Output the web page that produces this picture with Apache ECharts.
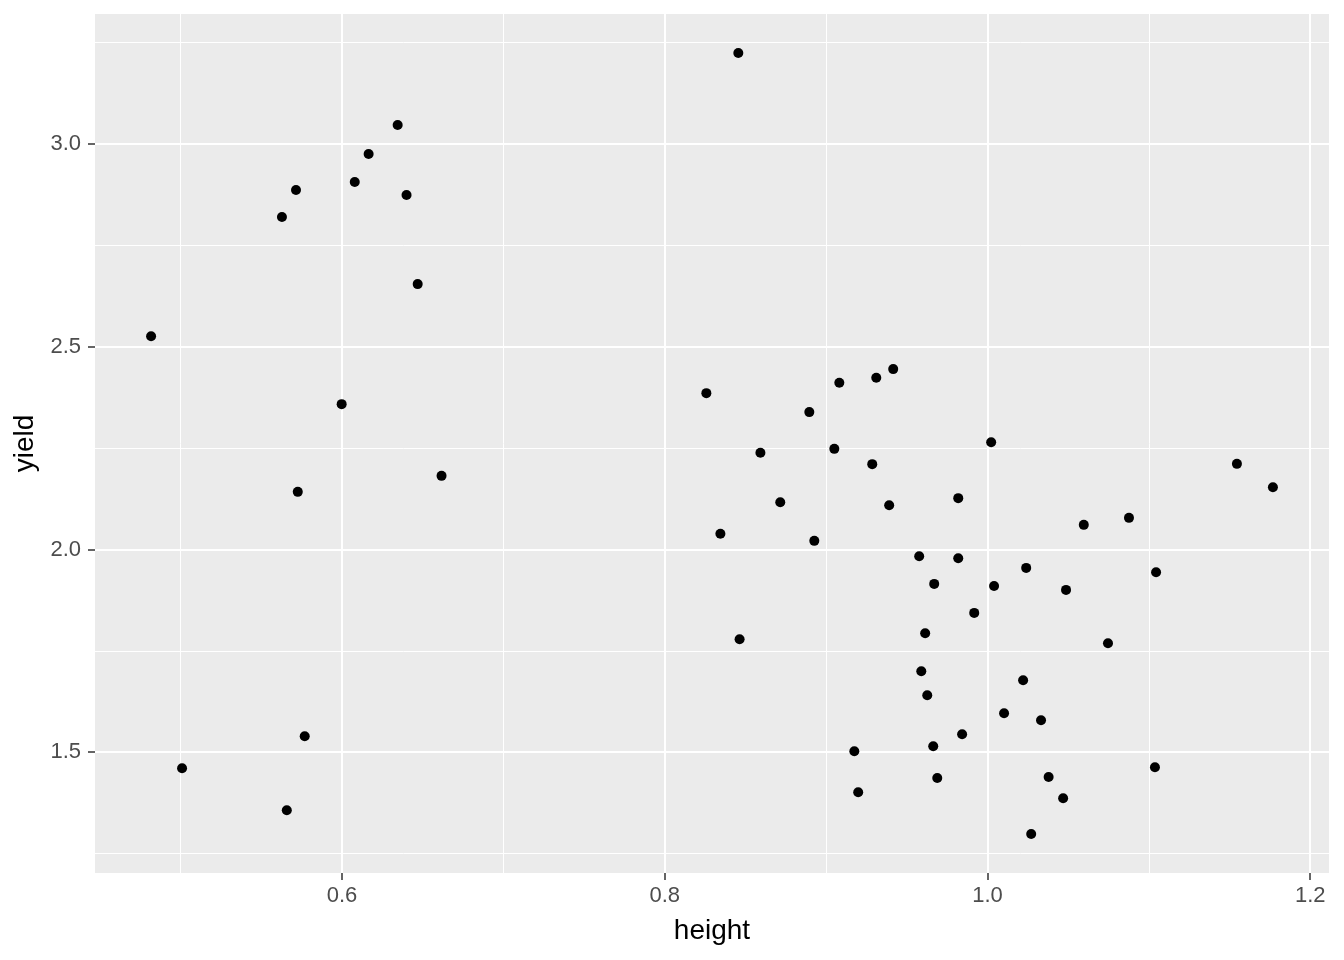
<!DOCTYPE html>
<html>
<head>
<meta charset="utf-8">
<script src="https://cdn.jsdelivr.net/npm/echarts@6/dist/echarts.min.js"></script>
<style>
html,body{margin:0;padding:0;background:#fff;}
#chart{width:1344px;height:960px;}
</style>
</head>
<body>
<div id="chart"></div>
<script>
const heights = [0.4817, 0.5009, 0.5628, 0.5715, 0.6079, 0.6165, 0.6345, 0.6400, 0.6469, 0.5998, 0.5726, 0.6617, 0.5769, 0.5658, 0.8456,
  0.8258, 0.9082, 0.9311, 0.9416, 0.8896, 1.0023, 0.8593, 0.9051, 0.9286, 0.8716, 0.9391, 0.9819, 1.0597, 0.8345, 0.8927, 0.9577, 0.9819, 1.0240, 0.9670, 1.0041, 1.0487, 0.9918, 0.8464,
  0.9614, 1.0747, 0.9590, 1.0221, 0.9627, 1.0103, 1.0332, 0.9843, 0.9664, 0.9175, 0.9689, 1.0379, 0.9199, 1.0469, 1.0271,
  1.1546, 1.1769, 1.0877, 1.1045, 1.1038];
const yields = [2.526, 1.4604, 2.820, 2.8865, 2.9062, 2.9753, 3.0469, 2.8742, 2.6546, 2.3585, 2.1421, 2.1816, 1.5394, 1.3568, 3.2245,
  2.3856, 2.4111, 2.4234, 2.4449, 2.3388, 2.2647, 2.2384, 2.2482, 2.2105, 2.1167, 2.1093, 2.1266, 2.0607, 2.0386, 2.0213, 1.9835, 1.9785, 1.9546, 1.9151, 1.9101, 1.9003, 1.8436, 1.7787,
  1.7935, 1.7688, 1.6997, 1.6775, 1.6405, 1.5961, 1.5788, 1.5443, 1.5147, 1.5023, 1.4365, 1.4390, 1.4012, 1.3864, 1.2983,
  2.2112, 2.1537, 2.0780, 1.9440, 1.4629];
const xTicks = [0.6, 0.8, 1.0, 1.2];
const yTicks = [1.5, 2.0, 2.5, 3.0];
const xTitle = 'height';
const yTitle = 'yield';

function expand(arr) {
  const lo = Math.min(...arr), hi = Math.max(...arr);
  const pad = (hi - lo) * 0.05;
  return [lo - pad, hi + pad];
}
const xr = expand(heights), yr = expand(yields);
const points = heights.map((h, i) => [h, yields[i]]);

const font = 'Liberation Sans, Arial, sans-serif';
const chart = echarts.init(document.getElementById('chart'), null, {renderer: 'canvas'});
chart.setOption({
  animation: false,
  backgroundColor: '#ffffff',
  grid: {left: 95, right: 15, top: 14, bottom: 87, show: true, backgroundColor: '#EBEBEB', borderWidth: 0},
  xAxis: {
    type: 'value', min: xr[0], max: xr[1],
    name: xTitle, nameLocation: 'middle', nameGap: 44,
    nameTextStyle: {color: '#000', fontSize: 28, fontFamily: font},
    axisLine: {show: false},
    axisTick: {show: true, length: 7, lineStyle: {color: '#333333', width: 1.5}, customValues: xTicks},
    axisLabel: {color: '#4D4D4D', fontSize: 22, fontFamily: font, margin: 12, customValues: xTicks,
      formatter: v => v.toFixed(1)},
    splitLine: {show: true, lineStyle: {color: '#ffffff', width: 2}},
    minorTick: {show: false, splitNumber: 2},
    minorSplitLine: {show: true, lineStyle: {color: '#ffffff', width: 1}}
  },
  yAxis: {
    type: 'value', min: yr[0], max: yr[1],
    name: yTitle, nameLocation: 'middle', nameGap: 55, nameRotate: 90,
    nameTextStyle: {color: '#000', fontSize: 28, fontFamily: font},
    axisLine: {show: false},
    axisTick: {show: true, length: 7, lineStyle: {color: '#333333', width: 1.5}, customValues: yTicks},
    axisLabel: {color: '#4D4D4D', fontSize: 22, fontFamily: font, margin: 14, customValues: yTicks,
      formatter: v => v.toFixed(1)},
    splitLine: {show: true, lineStyle: {color: '#ffffff', width: 2}},
    minorTick: {show: false, splitNumber: 2},
    minorSplitLine: {show: true, lineStyle: {color: '#ffffff', width: 1}}
  },
  series: [{
    type: 'scatter',
    data: points,
    symbol: 'circle',
    symbolSize: 10,
    itemStyle: {color: '#000000', opacity: 1},
    silent: true
  }]
});
</script>
</body>
</html>
